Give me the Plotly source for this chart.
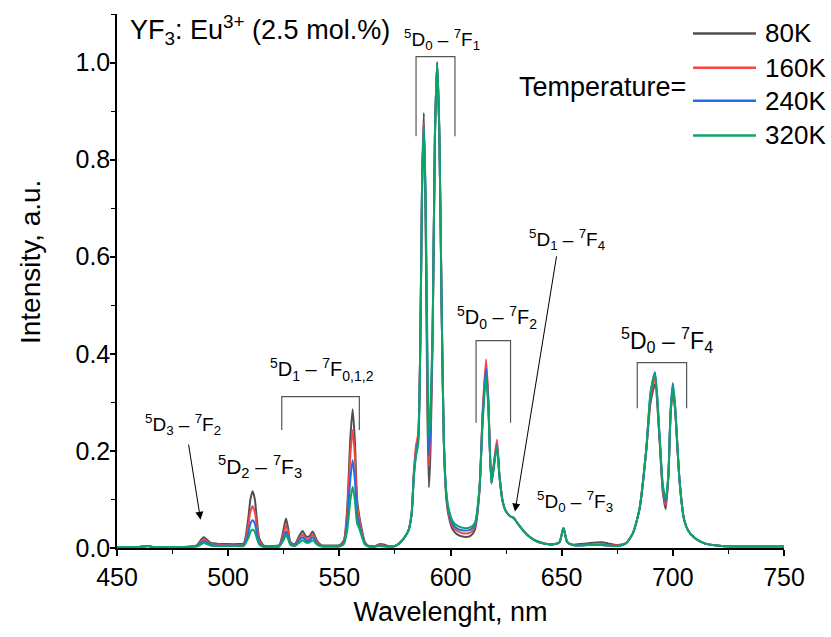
import plotly.graph_objects as go

# Emission spectra of YF3:Eu3+ (2.5 mol.%) at four temperatures, normalised to the 594 nm line
wavelength = [
    450, 455, 460, 464, 466, 470, 475, 480, 484, 486, 488, 489, 490, 492, 495, 500, 504, 507,
    509, 510, 511, 512, 513, 514, 516, 520, 523, 525, 526, 527, 528, 530, 532, 533.5, 535,
    536.5, 538, 540, 542, 546, 550, 552, 553.5, 555, 556, 557, 558, 559, 560, 561.5, 563, 566,
    568, 570, 572, 575, 577, 579, 581, 582.5, 583.5, 584.5, 585.5, 586.5, 587.2, 588, 588.8,
    589.6, 590.3, 591, 592, 593, 594, 595, 596, 597, 598, 599, 601, 603, 606, 609, 611, 613,
    614.5, 616, 617, 618.4, 619.5, 620.9, 622, 623.5, 625, 627, 628.5, 630, 632, 635, 638, 642,
    646, 649, 650.8, 652.5, 655, 658, 662, 665, 668, 671, 675, 679, 682, 685, 688, 690, 692,
    694, 695.5, 696.8, 698, 699, 700, 701, 703, 705, 707, 710, 714, 718, 722, 730, 740, 750,
]

intensity_80K = [
    .002, .002, .002, .004, .002, .002, .002, .002, .003, .006, .018, .022, .019, .011, .009, .008, .008, .010,
    .060, .100, .117, .100, .055, .020, .005, .004, .006, .040, .061, .040, .012, .008, .025, .035, .024,
    .024, .034, .015, .006, .005, .006, .015, .080, .230, .286, .220, .100, .065, .040, .012, .005, .004,
    .008, .007, .004, .004, .010, .020, .035, .070, .150, .200, .230, .450, .750, .896, .680,
    .280, .125, .200, .450, .850, 1.0, .850, .500, .220, .110, .070, .038, .028, .023, .025, .038, .115,
    .275, .375, .300, .135, .170, .215, .150, .095, .075, .065, .062, .052, .040, .025, .016, .010,
    .008, .012, .041, .012, .007, .008, .010, .011, .012, .009, .006, .010, .030, .080, .200, .300, .338,
    .225, .115, .080, .150, .275, .323, .285, .140, .060, .035, .020, .010, .006, .004, .003, .003, .003,
]

intensity_160K = [
    .002, .002, .002, .004, .002, .002, .002, .002, .003, .005, .014, .018, .015, .009, .007, .006, .006, .008,
    .045, .075, .086, .074, .040, .015, .004, .003, .005, .030, .047, .031, .010, .006, .020, .028, .019,
    .019, .028, .012, .005, .004, .005, .012, .068, .195, .243, .188, .087, .058, .035, .010, .004, .003,
    .006, .005, .003, .004, .010, .020, .035, .070, .155, .212, .235, .450, .740, .875, .700,
    .340, .168, .240, .450, .850, 1.0, .850, .500, .220, .115, .075, .045, .035, .030, .032, .044, .118,
    .285, .389, .310, .133, .175, .223, .150, .095, .075, .065, .062, .052, .040, .025, .015, .009,
    .007, .012, .041, .012, .006, .006, .007, .007, .008, .006, .005, .010, .030, .080, .200, .310, .350,
    .228, .120, .088, .150, .278, .330, .288, .140, .060, .035, .020, .010, .006, .004, .003, .003, .003,
]

intensity_240K = [
    .002, .002, .002, .004, .002, .002, .002, .002, .003, .004, .011, .014, .012, .007, .005, .005, .005, .006,
    .030, .050, .057, .050, .028, .010, .003, .003, .004, .022, .034, .023, .008, .005, .016, .022, .015,
    .015, .022, .010, .004, .003, .004, .010, .050, .145, .181, .140, .067, .047, .030, .008, .004, .003,
    .005, .004, .003, .004, .010, .020, .035, .070, .150, .195, .225, .450, .740, .870, .710,
    .370, .190, .260, .450, .850, 1.0, .850, .500, .220, .118, .080, .050, .040, .036, .038, .048, .120,
    .275, .370, .300, .133, .170, .212, .150, .095, .075, .065, .062, .052, .040, .025, .015, .009,
    .007, .012, .041, .012, .006, .005, .006, .006, .006, .005, .004, .010, .030, .080, .200, .320, .362,
    .232, .125, .095, .150, .285, .340, .295, .140, .060, .035, .020, .010, .006, .004, .003, .003, .003,
]

intensity_320K = [
    .002, .002, .002, .004, .002, .002, .002, .002, .003, .003, .008, .011, .009, .005, .004, .004, .004, .004,
    .020, .033, .038, .033, .018, .007, .002, .002, .003, .017, .027, .018, .006, .004, .011, .016, .011,
    .011, .016, .007, .003, .003, .003, .008, .035, .100, .126, .098, .050, .040, .025, .007, .003, .003,
    .004, .003, .003, .004, .010, .020, .035, .070, .145, .190, .215, .450, .740, .865, .730,
    .410, .228, .290, .460, .850, 1.0, .850, .500, .225, .122, .085, .055, .046, .041, .043, .052, .122,
    .260, .353, .290, .133, .165, .209, .148, .095, .075, .065, .062, .052, .040, .025, .015, .009,
    .007, .012, .041, .012, .006, .005, .006, .006, .006, .005, .004, .010, .030, .080, .200, .320, .360,
    .235, .130, .102, .150, .280, .333, .292, .140, .060, .035, .020, .010, .006, .004, .003, .003, .003,
]

temperatures = ["80K", "160K", "240K", "320K"]
series = [intensity_80K, intensity_160K, intensity_240K, intensity_320K]
colors = ["#505050", "#F84444", "#1E6FE6", "#0CA566"]

x_ticks = [450, 500, 550, 600, 650, 700, 750]
y_ticks = [0.0, 0.2, 0.4, 0.6, 0.8, 1.0]

FONT = "Liberation Sans, Arial, sans-serif"

fig = go.Figure()
for name, values, color in zip(temperatures, series, colors):
    fig.add_trace(go.Scatter(
        x=wavelength, y=values, mode="lines", name=name, showlegend=False,
        line=dict(color=color, width=2, shape="spline", smoothing=0.6),
    ))

# Brackets grouping transition bands: (x left, x right, y top, y bottom)
brackets = [
    (584.5, 602.0, 1.012, 0.848),
    (524.1, 559.0, 0.312, 0.243),
    (611.5, 627.0, 0.427, 0.258),
    (684.0, 706.2, 0.382, 0.288),
]
for x0, x1, yt, yb in brackets:
    fig.add_shape(type="path", xref="x", yref="y",
                  path=f"M {x0},{yb} L {x0},{yt} L {x1},{yt} L {x1},{yb}",
                  line=dict(color="#555555", width=1.2))

# Transition labels: (text, x, y, font size)
labels = [
    ("<sup>5</sup>D<sub>0</sub> – <sup>7</sup>F<sub>1</sub>", 596.0, 1.047, 19),
    ("<sup>5</sup>D<sub>1</sub> – <sup>7</sup>F<sub>0,1,2</sub>", 542.0, 0.367, 20),
    ("<sup>5</sup>D<sub>0</sub> – <sup>7</sup>F<sub>2</sub>", 620.7, 0.474, 20),
    ("<sup>5</sup>D<sub>0</sub> – <sup>7</sup>F<sub>4</sub>", 697.5, 0.429, 23),
    ("<sup>5</sup>D<sub>0</sub> – <sup>7</sup>F<sub>3</sub>", 656.0, 0.095, 19),
    ("<sup>5</sup>D<sub>1</sub> – <sup>7</sup>F<sub>4</sub>", 652.3, 0.635, 19),
    ("<sup>5</sup>D<sub>3</sub> – <sup>7</sup>F<sub>2</sub>", 479.9, 0.254, 19),
    ("<sup>5</sup>D<sub>2</sub> – <sup>7</sup>F<sub>3</sub>", 514.5, 0.168, 21),
]
for text, x, y, size in labels:
    fig.add_annotation(x=x, y=y, xref="x", yref="y", text=text, showarrow=False,
                       font=dict(family=FONT, size=size, color="black"))

# Arrows pointing to weak bands: (tail x, tail y, head x, head y)
arrows = [
    (482.1, 0.216, 487.6, 0.058),
    (647.8, 0.604, 629.0, 0.075),
]
for ax, ay, x, y in arrows:
    fig.add_annotation(x=x, y=y, ax=ax, ay=ay, xref="x", yref="y", axref="x", ayref="y",
                       text="", showarrow=True, arrowhead=2, arrowsize=1.6, arrowwidth=1,
                       arrowcolor="black")

# Sample label
fig.add_annotation(x=0.0165, y=0.970, xref="paper", yref="paper", xanchor="left", yanchor="middle",
                   text="YF<sub>3</sub>: Eu<sup>3+</sup> (2.5 mol.%)", showarrow=False,
                   font=dict(family=FONT, size=27, color="black"))

# Temperature key
key_y = [0.9635, 0.8994, 0.8376, 0.7725]
for name, color, ky in zip(temperatures, colors, key_y):
    fig.add_shape(type="line", xref="paper", yref="paper", x0=0.8636, x1=0.958, y0=ky, y1=ky,
                  line=dict(color=color, width=2.5))
    fig.add_annotation(x=0.9685, y=ky, xref="paper", yref="paper", xanchor="left", yanchor="middle",
                       text=name, showarrow=False, font=dict(family=FONT, size=26, color="black"))
fig.add_annotation(x=0.856, y=0.8639, xref="paper", yref="paper", xanchor="right", yanchor="middle",
                   text="Temperature=", showarrow=False, font=dict(family=FONT, size=27, color="black"))

# Vertical axis title
fig.add_annotation(x=-0.130, y=0.536, xref="paper", yref="paper", xanchor="center", yanchor="middle",
                   text="Intensity, a.u.", textangle=-90, showarrow=False,
                   font=dict(family=FONT, size=28, color="black"))

fig.update_layout(
    width=831, height=637,
    margin=dict(l=117, r=47, t=14, b=89),
    paper_bgcolor="white", plot_bgcolor="white",
    font=dict(family=FONT, color="black"),
    xaxis=dict(
        range=[450, 750], tickvals=x_ticks, ticks="outside", ticklen=6, tickwidth=1.5,
        tickcolor="black", showline=True, linecolor="black", linewidth=1.5,
        showgrid=False, zeroline=False, tickfont=dict(size=25),
        minor=dict(dtick=25, ticks="outside", ticklen=4, tickwidth=1.2, tickcolor="black", showgrid=False),
        title=dict(text="Wavelenght, nm", font=dict(size=27), standoff=12),
    ),
    yaxis=dict(
        range=[0, 1.1], tickvals=y_ticks, tickformat=".1f", ticks="outside", ticklen=5, tickwidth=1.5,
        tickcolor="black", showline=True, linecolor="black", linewidth=1.5,
        showgrid=False, zeroline=False, tickfont=dict(size=25), ticklabelstandoff=-5,
        minor=dict(dtick=0.1, ticks="outside", ticklen=4, tickwidth=1.2, tickcolor="black", showgrid=False),
    ),
)

fig.write_html("out.html")
